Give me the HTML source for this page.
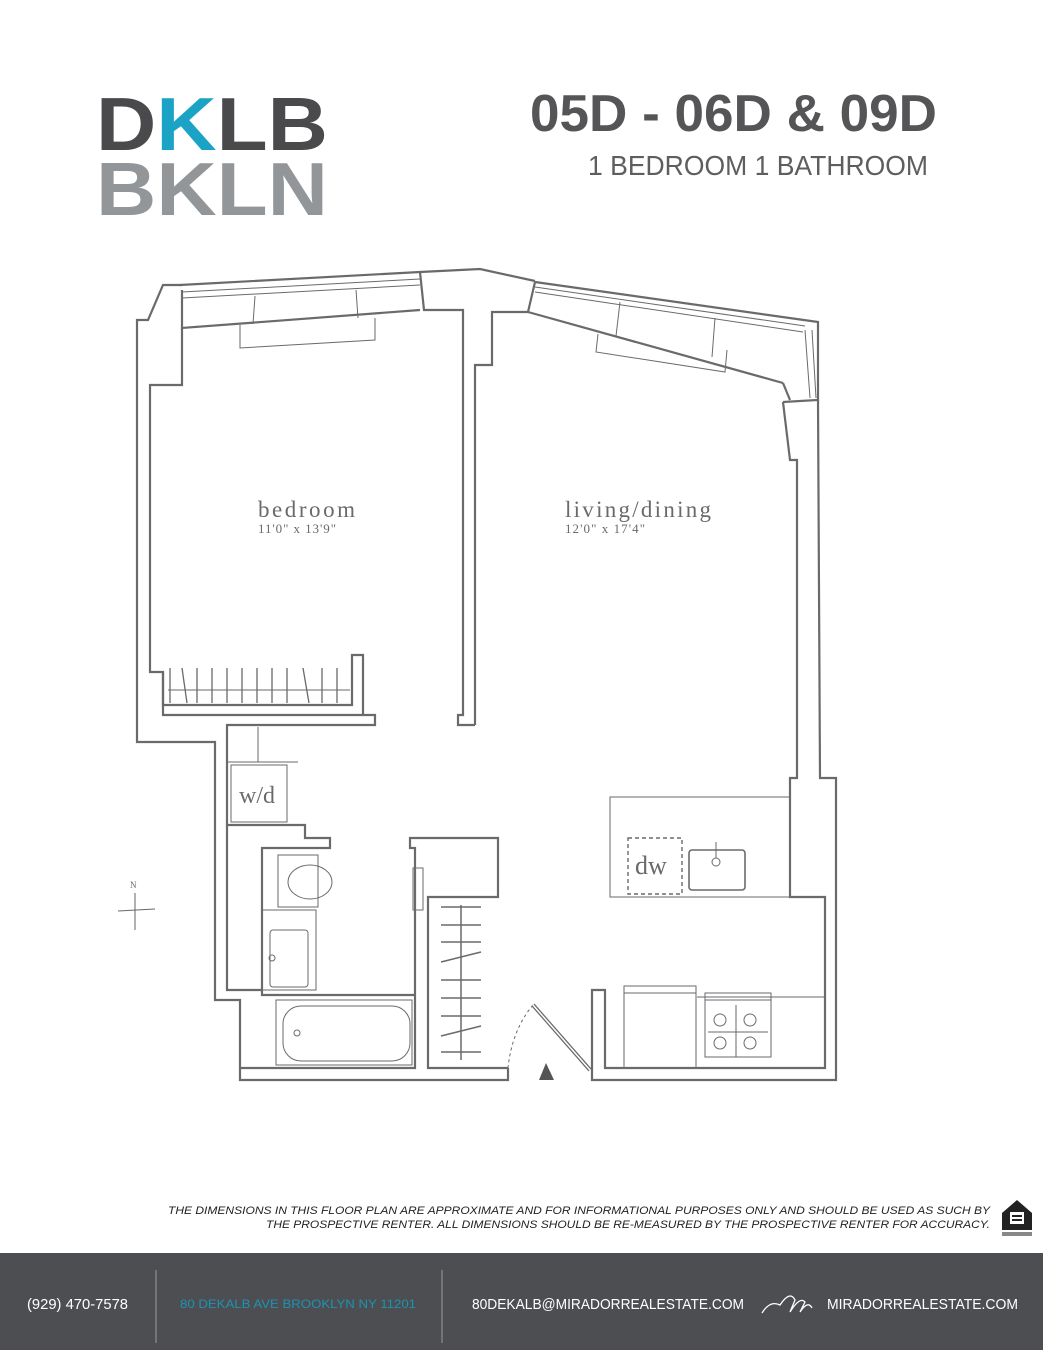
<!DOCTYPE html>
<html><head><meta charset="utf-8"><style>
body{margin:0;width:1043px;height:1350px;background:#fff;position:relative;overflow:hidden;font-family:"Liberation Sans",sans-serif}
svg{position:absolute;left:0;top:0}
</style></head><body>
<svg width="1043" height="1350" viewBox="0 0 1043 1350">
<text x="96" y="150" font-family="Liberation Sans" font-weight="bold" font-size="75" fill="#4a4a4c" textLength="232" lengthAdjust="spacingAndGlyphs">D<tspan fill="#1ba3c6">K</tspan>LB</text>
<text x="96" y="215" font-family="Liberation Sans" font-weight="bold" font-size="75" fill="#939699" textLength="232" lengthAdjust="spacingAndGlyphs">BKLN</text>
<text x="530" y="131" font-family="Liberation Sans" font-weight="bold" font-size="52" fill="#555557" textLength="407" lengthAdjust="spacingAndGlyphs">05D - 06D &amp; 09D</text>
<text x="588" y="175" font-family="Liberation Sans" font-size="28" fill="#5e5e60" textLength="340" lengthAdjust="spacingAndGlyphs">1 BEDROOM 1 BATHROOM</text>

<g fill="none" stroke="#6a6a6c" stroke-width="2.2" stroke-linejoin="miter">
<polyline points="182,285 163,285 148,320 137,320 137,742 215,742 215,1000 240,1000 240,1080 508,1080 508,1068"/>
<polyline points="592,1068 592,1080 836,1080 836,778 820,778 818,400"/>
<polyline points="180,285 420,272 480,269 535,281"/>
<polyline points="420,272 424,310 463,310 463,700"/>
<polyline points="475,725 475,365 492,365 492,312 528,312 535,282"/>
<polyline points="528,312 783,383"/>
<polyline points="535,282 818,322 818,400 783,402"/>
<polyline points="783,383 790,400"/>
<polyline points="783,402 790,460 797,460 797,778 790,778 790,897 825,897 825,1068 605,1068 605,990 592,990 592,1068"/>
<polyline points="182,290 182,328 420,310"/>
<polyline points="182,328 182,385 150,385 150,672 163,672 163,715 375,715 375,725 227,725 227,990 262,990"/>
<polyline points="163,672 163,705 352,705 352,655 363,655 363,715"/>
<polyline points="463,700 463,715 458,715 458,725 475,725"/>
<polyline points="227,825 305,825 305,838 330,838 330,848 262,848 262,995 415,995"/>
<polyline points="240,1068 415,1068 415,848 410,848 410,838 498,838 498,897 428,897 428,1068 508,1068"/>
</g>
<g fill="none" stroke="#6a6a6c" stroke-width="1">
<line x1="182" y1="292" x2="420" y2="279"/><line x1="182" y1="298" x2="420" y2="285"/>
<line x1="535" y1="287" x2="805" y2="326"/><line x1="535" y1="292" x2="803" y2="332"/>
<line x1="805" y1="330" x2="810" y2="398"/><line x1="812" y1="330" x2="816" y2="398"/>
<polyline points="240,325 240,348 375,340 375,318"/>
<line x1="253" y1="324" x2="255" y2="296"/><line x1="358" y1="318" x2="356" y2="290"/>
<polyline points="598,334 596,352 725,372 727,350"/>
<line x1="616" y1="336" x2="620" y2="302"/><line x1="712" y1="357" x2="715" y2="318"/>
<line x1="168" y1="690" x2="350" y2="690"/>
<g stroke-width="1.3">
<line x1="170" y1="668" x2="170" y2="703"/><line x1="182" y1="668" x2="187" y2="703"/><line x1="197" y1="668" x2="197" y2="703"/><line x1="212" y1="668" x2="212" y2="703"/><line x1="227" y1="668" x2="227" y2="703"/><line x1="242" y1="668" x2="242" y2="703"/><line x1="257" y1="668" x2="257" y2="703"/><line x1="272" y1="668" x2="272" y2="703"/><line x1="287" y1="668" x2="287" y2="703"/><line x1="303" y1="668" x2="309" y2="703"/><line x1="322" y1="668" x2="322" y2="703"/><line x1="337" y1="668" x2="337" y2="703"/>
</g>
<rect x="231" y="765" width="56" height="57"/>
<line x1="258" y1="727" x2="258" y2="762"/><line x1="227" y1="762" x2="298" y2="762"/>
<rect x="278" y="855" width="40" height="52"/>
<ellipse cx="310" cy="882" rx="22" ry="17"/>
<polyline points="262,910 316,910 316,990 262,990"/>
<rect x="270" y="930" width="38" height="57" rx="3"/>
<circle cx="272" cy="958" r="3"/>
<rect x="276" y="1000" width="136" height="65"/>
<rect x="283" y="1006" width="127" height="55" rx="18"/>
<circle cx="297" cy="1033" r="3"/>
<rect x="413" y="868" width="10" height="42"/>
<g stroke-width="1.5">
<line x1="461" y1="905" x2="461" y2="1060"/>
<line x1="441" y1="907" x2="481" y2="907"/><line x1="441" y1="925" x2="481" y2="925"/><line x1="441" y1="942" x2="481" y2="942"/><line x1="441" y1="962" x2="481" y2="952"/><line x1="441" y1="980" x2="481" y2="980"/><line x1="441" y1="998" x2="481" y2="998"/><line x1="441" y1="1016" x2="481" y2="1016"/><line x1="441" y1="1036" x2="481" y2="1026"/><line x1="441" y1="1052" x2="481" y2="1052"/>
</g>
<path d="M533,1005 Q512,1030 508,1068" stroke-dasharray="3,3"/>
<polyline points="790,797 610,797 610,897 790,897"/>
<rect x="628" y="838" width="54" height="56" stroke-dasharray="4,3" stroke-width="1.4"/>
<rect x="689" y="850" width="56" height="40" rx="3" stroke-width="1.6"/>
<circle cx="716" cy="862" r="4"/><line x1="716" y1="842" x2="716" y2="858"/>
<line x1="697" y1="997" x2="825" y2="997"/>
<rect x="624" y="986" width="72" height="82"/><line x1="624" y1="993" x2="696" y2="993"/>
<rect x="705" y="993" width="66" height="64"/><line x1="705" y1="1000" x2="771" y2="1000"/>
<circle cx="720" cy="1020" r="6"/><circle cx="750" cy="1020" r="6"/><circle cx="720" cy="1043" r="6"/><circle cx="750" cy="1043" r="6"/>
<line x1="736" y1="1005" x2="736" y2="1057"/><line x1="708" y1="1032" x2="768" y2="1032"/>
</g>
<line x1="533" y1="1005" x2="590" y2="1070" stroke="#6a6a6c" stroke-width="4"/>
<line x1="533" y1="1005" x2="590" y2="1070" stroke="#fff" stroke-width="1.5"/>
<polygon points="546,1063 539,1080 554,1080" fill="#555"/>
<g stroke="#666" stroke-width="1"><line x1="135" y1="893" x2="135" y2="930"/><line x1="118" y1="911" x2="155" y2="909"/></g>
<text x="130" y="888" font-family="Liberation Serif" font-size="9" fill="#666">N</text>
<text x="258" y="517" font-family="Liberation Serif" font-size="23" fill="#6a6a6c" textLength="97" lengthAdjust="spacing">bedroom</text>
<text x="258" y="533" font-family="Liberation Serif" font-size="13" fill="#6a6a6c" textLength="78" lengthAdjust="spacing">11'0" x 13'9"</text>
<text x="565" y="517" font-family="Liberation Serif" font-size="23" fill="#6a6a6c" textLength="146" lengthAdjust="spacing">living/dining</text>
<text x="565" y="533" font-family="Liberation Serif" font-size="13" fill="#6a6a6c" textLength="80" lengthAdjust="spacing">12'0" x 17'4"</text>
<text x="239" y="803" font-family="Liberation Serif" font-size="24" fill="#6a6a6c">w/d</text>
<text x="635" y="874" font-family="Liberation Serif" font-size="26" fill="#6a6a6c">dw</text>
<text x="990" y="1214" text-anchor="end" font-family="Liberation Sans" font-style="italic" font-size="11" fill="#222" textLength="822" lengthAdjust="spacingAndGlyphs">THE DIMENSIONS IN THIS FLOOR PLAN ARE APPROXIMATE AND FOR INFORMATIONAL PURPOSES ONLY AND SHOULD BE USED AS SUCH BY</text>
<text x="990" y="1228" text-anchor="end" font-family="Liberation Sans" font-style="italic" font-size="11" fill="#222" textLength="724" lengthAdjust="spacingAndGlyphs">THE PROSPECTIVE RENTER. ALL DIMENSIONS SHOULD BE RE-MEASURED BY THE PROSPECTIVE RENTER FOR ACCURACY.</text>
<polygon points="1017,1200 1002,1213 1002,1230 1032,1230 1032,1213" fill="#222"/>
<rect x="1010" y="1212" width="14" height="12" fill="#fff"/><rect x="1012" y="1215" width="10" height="2" fill="#222"/><rect x="1012" y="1219" width="10" height="2" fill="#222"/>
<rect x="1002" y="1232" width="30" height="4" fill="#888"/>
<rect x="0" y="1253" width="1043" height="97" fill="#4d4e51"/>
<line x1="156" y1="1270" x2="156" y2="1343" stroke="#9a9a9c" stroke-width="1"/>
<line x1="442" y1="1270" x2="442" y2="1343" stroke="#9a9a9c" stroke-width="1"/>
<text x="27" y="1309" font-family="Liberation Sans" font-size="15" fill="#fff" textLength="101" lengthAdjust="spacingAndGlyphs">(929) 470-7578</text>
<text x="180" y="1308" font-family="Liberation Sans" font-size="12" fill="#1d93b3" textLength="236" lengthAdjust="spacingAndGlyphs">80 DEKALB AVE BROOKLYN NY 11201</text>
<text x="472" y="1309" font-family="Liberation Sans" font-size="15" fill="#fff" textLength="272" lengthAdjust="spacingAndGlyphs">80DEKALB@MIRADORREALESTATE.COM</text>
<path d="M762,1313 Q770,1300 780,1305 Q790,1290 795,1300 L790,1312 Q800,1296 805,1302 L800,1312 Q808,1300 812,1308" fill="none" stroke="#fff" stroke-width="1.3"/>
<text x="827" y="1309" font-family="Liberation Sans" font-size="15" fill="#fff" textLength="191" lengthAdjust="spacingAndGlyphs">MIRADORREALESTATE.COM</text>
</svg>
</body></html>
